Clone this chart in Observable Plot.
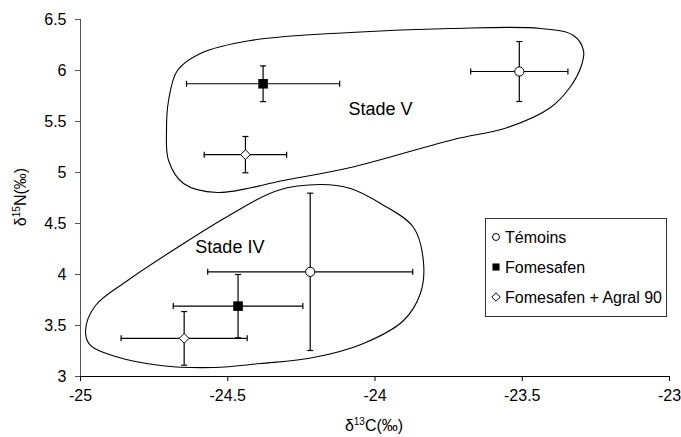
<!DOCTYPE html>
<html><head><meta charset="utf-8">
<script src="https://cdn.jsdelivr.net/npm/d3@7"></script>
<script src="https://cdn.jsdelivr.net/npm/@observablehq/plot@0.6"></script>
<style>body{margin:0;background:#fff;} #chart{position:relative;width:681px;height:437px;}</style>
</head><body><div id="chart"></div>
<script>
// ---- data ----
const seriesNames = ["Témoins", "Fomesafen", "Fomesafen + Agral 90"];
const pointSeries = ["Témoins", "Fomesafen", "Fomesafen + Agral 90", "Témoins", "Fomesafen", "Fomesafen + Agral 90"];
const pointStage = ["Stade V", "Stade V", "Stade V", "Stade IV", "Stade IV", "Stade IV"];
const d13C = [-23.51, -24.38, -24.44, -24.22, -24.465, -24.648];
const d13CErr = [0.165, 0.26, 0.14, 0.348, 0.22, 0.214];
const d15N = [5.99, 5.87, 5.175, 4.026, 3.69, 3.374];
const d15NErr = [0.294, 0.175, 0.178, 0.771, 0.31, 0.263];

const xTicks = [-25, -24.5, -24, -23.5, -23];
const yTicks = [3, 3.5, 4, 4.5, 5, 5.5, 6, 6.5];

const stageVOutlineC = [-24.708, -24.701, -24.671, -24.593, -24.423, -24.083, -23.744, -23.438, -23.326, -23.292, -23.299, -23.336, -23.404, -23.550, -23.733, -24.083, -24.311, -24.535, -24.650, -24.701];
const stageVOutlineN = [5.412, 5.706, 6.0, 6.167, 6.294, 6.373, 6.412, 6.412, 6.343, 6.196, 6.049, 5.843, 5.637, 5.441, 5.324, 5.049, 4.922, 4.804, 4.892, 5.118];
const stageIVOutlineC = [-24.983, -24.949, -24.840, -24.671, -24.501, -24.331, -24.185, -24.083, -23.981, -23.869, -23.835, -23.846, -23.903, -24.039, -24.209, -24.389, -24.548, -24.728, -24.881, -24.966];
const stageIVOutlineN = [3.451, 3.696, 3.941, 4.265, 4.569, 4.824, 4.882, 4.843, 4.696, 4.461, 4.108, 3.814, 3.549, 3.324, 3.186, 3.127, 3.088, 3.108, 3.196, 3.304];

const stageLabels = ["Stade V", "Stade IV"];
const stageLabelC = [-24.09, -24.61];
const stageLabelN = [5.62, 4.27];

// ---- build tables ----
const points = d13C.map((c, i) => ({
  series: pointSeries[i], stage: pointStage[i], c, n: d15N[i],
  c0: c - d13CErr[i], c1: c + d13CErr[i], n0: d15N[i] - d15NErr[i], n1: d15N[i] + d15NErr[i]
}));
const blobV = stageVOutlineC.map((c, i) => ({c, n: stageVOutlineN[i]}));
const blobIV = stageIVOutlineC.map((c, i) => ({c, n: stageIVOutlineN[i]}));
const labels = stageLabels.map((t, i) => ({t, c: stageLabelC[i], n: stageLabelN[i]}));

const capV = {draw(ctx, size) { const h = Math.sqrt(size / Math.PI); ctx.moveTo(0, -h); ctx.lineTo(0, h); }};
const capH = {draw(ctx, size) { const h = Math.sqrt(size / Math.PI); ctx.moveTo(-h, 0); ctx.lineTo(h, 0); }};

const fmt = d => String(d);
const font = "Liberation Sans, Arial, Helvetica, sans-serif";

const plot = Plot.plot({
  width: 681, height: 437,
  marginLeft: 80, marginRight: 12, marginTop: 19, marginBottom: 61,
  style: {fontFamily: font, fontSize: "16px", color: "black", background: "white"},
  x: {domain: [-25, -23]},
  y: {domain: [3, 6.5]},
  marks: [
    Plot.axisX({ticks: xTicks, tickFormat: fmt, tickSize: 5, tickPadding: 8, fontSize: 16, label: null}),
    Plot.axisY({ticks: yTicks, tickFormat: fmt, tickSize: 5, tickPadding: 9, fontSize: 16, label: null, stroke: "#555"}),
    Plot.ruleX([-25], {stroke: "#555"}),
    Plot.ruleY([3], {stroke: "black"}),
    Plot.line(blobV, {x: "c", y: "n", curve: "catmull-rom-closed", stroke: "black", strokeWidth: 1.1}),
    Plot.line(blobIV, {x: "c", y: "n", curve: "catmull-rom-closed", stroke: "black", strokeWidth: 1.1}),
    Plot.ruleY(points, {y: "n", x1: "c0", x2: "c1", stroke: "black", strokeWidth: 1.2}),
    Plot.ruleX(points, {x: "c", y1: "n0", y2: "n1", stroke: "black", strokeWidth: 1.2}),
    Plot.dot(points, {x: "c0", y: "n", symbol: capV, r: 3, stroke: "black", fill: "none", strokeWidth: 1.2}),
    Plot.dot(points, {x: "c1", y: "n", symbol: capV, r: 3, stroke: "black", fill: "none", strokeWidth: 1.2}),
    Plot.dot(points, {x: "c", y: "n0", symbol: capH, r: 3, stroke: "black", fill: "none", strokeWidth: 1.2}),
    Plot.dot(points, {x: "c", y: "n1", symbol: capH, r: 3, stroke: "black", fill: "none", strokeWidth: 1.2}),
    Plot.dot(points.filter(d => d.series === seriesNames[0]), {x: "c", y: "n", symbol: "circle", r: 4.6, fill: "white", stroke: "black", strokeWidth: 1}),
    Plot.dot(points.filter(d => d.series === seriesNames[1]), {x: "c", y: "n", symbol: "square", r: 5.4, fill: "black", stroke: "none"}),
    Plot.dot(points.filter(d => d.series === seriesNames[2]), {x: "c", y: "n", symbol: "diamond2", r: 4.4, fill: "white", stroke: "black", strokeWidth: 1}),
    Plot.text(labels, {x: "c", y: "n", text: "t", textAnchor: "start", fontSize: 18, fill: "black"})
  ]
});

const svg = d3.select(plot);
// axis titles with superscripts
const xt = svg.append("text").attr("x", 374).attr("y", 431).attr("text-anchor", "middle")
  .attr("font-family", font).attr("font-size", 16).attr("fill", "black");
xt.append("tspan").text("δ");
xt.append("tspan").attr("dy", -6).attr("font-size", 10).text("13");
xt.append("tspan").attr("dy", 6).text("C(‰)");
const yt = svg.append("text").attr("transform", "translate(26,197) rotate(-90)").attr("text-anchor", "middle")
  .attr("font-family", font).attr("font-size", 16).attr("fill", "black");
yt.append("tspan").text("δ");
yt.append("tspan").attr("dy", -6).attr("font-size", 10).text("15");
yt.append("tspan").attr("dy", 6).text("N(‰)");

// legend
const lg = svg.append("g").attr("font-family", font).attr("font-size", 16).attr("text-anchor", "start");
lg.append("rect").attr("x", 485.5).attr("y", 218.5).attr("width", 181).attr("height", 98)
  .attr("fill", "white").attr("stroke", "#333").attr("stroke-width", 1);
const legendSymbols = [d3.symbolCircle, d3.symbolSquare, d3.symbolDiamond2];
const legendFill = ["white", "black", "white"];
const legendStroke = ["black", "none", "black"];
const legendSize = [38, 50, 45];
seriesNames.forEach((s, i) => {
  const cy = 237 + i * 30;
  lg.append("path").attr("transform", `translate(496,${cy})`)
    .attr("d", d3.symbol(legendSymbols[i], legendSize[i])())
    .attr("fill", legendFill[i]).attr("stroke", legendStroke[i]).attr("stroke-width", 1);
  lg.append("text").attr("x", 505).attr("y", cy).attr("dy", "0.36em").attr("text-anchor", "start").attr("fill", "black").text(s);
});

document.getElementById("chart").appendChild(plot);
</script>
</body></html>
